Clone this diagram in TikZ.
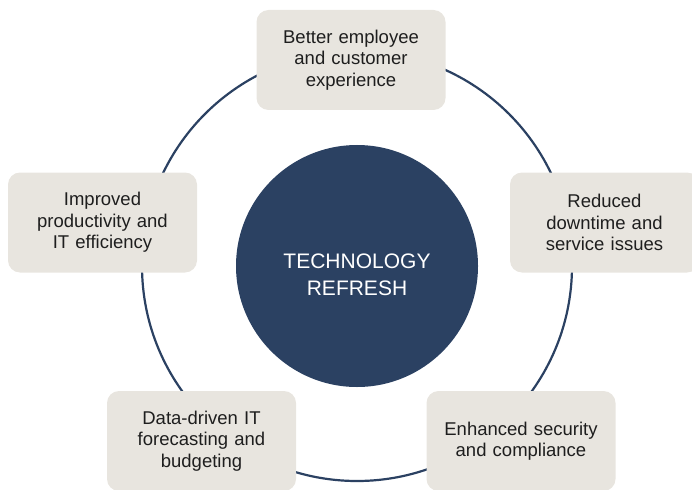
\documentclass[tikz,border=0pt]{standalone}
\usepackage{fontspec}
\setmainfont{Liberation Sans}
\definecolor{navy}{RGB}{43,65,98}
\definecolor{sand}{RGB}{232,229,223}
\definecolor{ink}{RGB}{30,30,30}
\begin{document}
\begin{tikzpicture}[x=1pt,y=-1pt,line join=round,line cap=round,
	ring/.style={draw=navy,line width=2.2pt},
	hub/.style={circle,fill=navy,minimum size=242pt,inner sep=0pt},
	hubtext/.style={text=white,align=center,yshift=-9pt,font=\fontsize{21}{27}\selectfont},
	benefit/.style={rectangle,rounded corners=12pt,fill=sand,text=ink,minimum width=189pt,
		minimum height=100pt,text width=180pt,inner sep=0pt,align=center,
		font=\fontsize{18.5}{21.5}\selectfont}]
				\useasboundingbox (0,0) rectangle (692,489);
				\node[hub,label={[hubtext]center:TECHNOLOGY\\REFRESH}] (refresh) at (357,266) {};
				\draw[ring] (refresh.center) circle[radius=215pt];
				\node[benefit] (experience) at (351,60) {Better employee\\and customer\\experience};
				\node[benefit] (downtime) at (604.5,222.5) {Reduced\\downtime and\\service issues};
				\node[benefit] (security) at (521,441) {Enhanced security\\and compliance};
				\node[benefit] (budgeting) at (201.5,441) {Data-driven IT\\forecasting and\\budgeting};
				\node[benefit] (productivity) at (102.5,222.5) {Improved\\productivity and\\IT efficiency};
			\end{tikzpicture}
\end{document}
